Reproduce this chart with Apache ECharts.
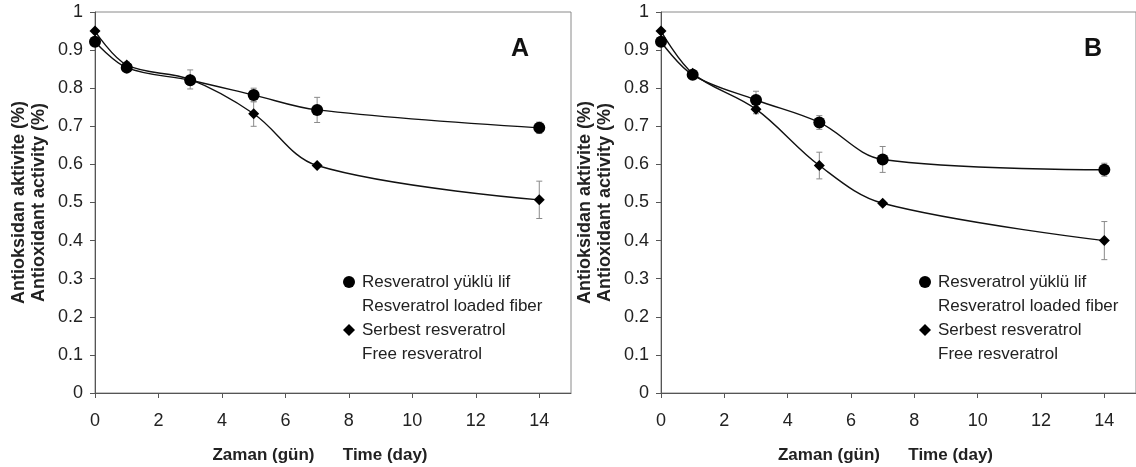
<!DOCTYPE html>
<html lang="tr">
<head>
<meta charset="utf-8" />
<title>Antioksidan aktivite</title>
<style>
  html, body { margin: 0; padding: 0; background: #fff; }
  #chart { width: 1136px; height: 467px; }
</style>
</head>
<body>
<div id="chart"></div>
<script src="https://cdn.jsdelivr.net/npm/echarts@6/dist/echarts.min.js"></script>
<script>
// zaman (gün)
const days = [0, 1, 3, 5, 7, 14];
const xTicks = [0, 2, 4, 6, 8, 10, 12, 14];

const nameFiber = 'Resveratrol yüklü lif';
const nameFree = 'Serbest resveratrol';
const nameEn = {
  'Resveratrol yüklü lif': 'Resveratrol loaded fiber',
  'Serbest resveratrol': 'Free resveratrol'
};

// panel A
const fiberA = [0.922, 0.854, 0.821, 0.782, 0.743, 0.696];
const fiberAErr = [0.005, 0.008, 0.012, 0.018, 0.033, 0.015];
const freeA = [0.950, 0.861, 0.823, 0.733, 0.597, 0.507];
const freeAErr = [0.004, 0.008, 0.025, 0.033, 0.005, 0.049];

// panel B
const fiberB = [0.922, 0.835, 0.769, 0.710, 0.613, 0.586];
const fiberBErr = [0.006, 0.008, 0.023, 0.018, 0.034, 0.017];
const freeB = [0.950, 0.839, 0.745, 0.597, 0.498, 0.400];
const freeBErr = [0.004, 0.006, 0.012, 0.035, 0.005, 0.050];

const chart = echarts.init(document.getElementById('chart'));
const font = '"Liberation Sans", Arial, sans-serif';

function points(vals) {
  return days.map(function (d, i) { return [d, vals[i]]; });
}
function errData(vals, errs) {
  return days.map(function (d, i) { return [d, vals[i] - errs[i], vals[i] + errs[i]]; });
}
// hata çubukları
function renderErr(params, api) {
  const x = api.value(0);
  const top = api.coord([x, api.value(2)]);
  const bot = api.coord([x, api.value(1)]);
  const w = 3;
  const st = { stroke: '#8a8a8a', lineWidth: 1 };
  return {
    type: 'group',
    children: [
      { type: 'line', shape: { x1: top[0], y1: top[1], x2: bot[0], y2: bot[1] }, style: st },
      { type: 'line', shape: { x1: top[0] - w, y1: top[1], x2: top[0] + w, y2: top[1] }, style: st },
      { type: 'line', shape: { x1: bot[0] - w, y1: bot[1], x2: bot[0] + w, y2: bot[1] }, style: st }
    ]
  };
}

const panels = [
  { grid: { left: 95, right: 565, top: 12, bottom: 74 }, fiber: fiberA, fiberErr: fiberAErr, free: freeA, freeErr: freeAErr,
    label: 'A', labelLeft: 511, legendLeft: 338 },
  { grid: { left: 661, right: 0, top: 12, bottom: 74 }, fiber: fiberB, fiberErr: fiberBErr, free: freeB, freeErr: freeBErr,
    label: 'B', labelLeft: 1084, legendLeft: 914 }
];

const option = {
  backgroundColor: '#fff',
  animation: false,
  textStyle: { fontFamily: font },
  title: [],
  legend: [],
  grid: [],
  xAxis: [],
  yAxis: [],
  series: []
};

panels.forEach(function (p, k) {
  option.grid.push(Object.assign({ show: true, borderColor: '#8a8a8a', borderWidth: 1, outerBoundsMode: 'none' }, p.grid));
  option.title.push({
    text: p.label, left: p.labelLeft, top: 37, padding: 0,
    textStyle: { fontFamily: font, fontSize: 25, fontWeight: 'bold', color: '#111' }
  });
  option.legend.push({
    orient: 'vertical', left: p.legendLeft, top: 241,
    itemWidth: 12, itemHeight: 12, itemGap: -24, selectedMode: false,
    data: [{ name: nameFiber, icon: 'circle' }, { name: nameFree, icon: 'diamond' }],
    formatter: function (n) { return '\n' + n + '\n' + nameEn[n]; },
    textStyle: { fontFamily: font, fontSize: 17, lineHeight: 24, color: '#222', padding: [0, 0, 0, 2] }
  });
  option.xAxis.push({
    type: 'value', gridIndex: k, min: 0, max: 15,
    name: 'Zaman (gün)      Time (day)', nameLocation: 'middle', nameGap: 54,
    nameTextStyle: { fontFamily: font, fontSize: 17, fontWeight: 'bold', color: '#222', padding: [0, 26, 0, 0] },
    axisLine: { lineStyle: { color: '#555', width: 1 } },
    axisTick: { show: true, length: 5, lineStyle: { color: '#555' }, customValues: xTicks },
    axisLabel: { fontFamily: font, fontSize: 18, color: '#222', margin: 19, customValues: xTicks },
    splitLine: { show: false }
  });
  option.yAxis.push({
    type: 'value', gridIndex: k, min: 0, max: 1, interval: 0.1,
    name: 'Antioksidan aktivite (%)\nAntioxidant activity (%)', nameLocation: 'middle', nameGap: 46,
    nameTextStyle: { fontFamily: font, fontSize: 18, fontWeight: 'bold', color: '#222', lineHeight: 20 },
    axisLine: { show: true, lineStyle: { color: '#555', width: 1 } },
    axisTick: { show: true, length: 5, lineStyle: { color: '#555' } },
    axisLabel: { fontFamily: font, fontSize: 18, color: '#222', margin: 12,
      formatter: function (v) { return String(+v.toFixed(1)); } },
    splitLine: { show: false }
  });
  [[p.fiber, p.fiberErr, nameFiber, 'circle', 12], [p.free, p.freeErr, nameFree, 'diamond', 11]].forEach(function (s) {
    option.series.push({
      type: 'custom', name: s[2] + ' hata', xAxisIndex: k, yAxisIndex: k, z: 1,
      renderItem: renderErr, data: errData(s[0], s[1]), silent: true
    });
    option.series.push({
      type: 'line', name: s[2], xAxisIndex: k, yAxisIndex: k, z: 3,
      data: points(s[0]), smooth: 0.35,
      symbol: s[3], symbolSize: s[4], showAllSymbol: true,
      itemStyle: { color: '#000' },
      lineStyle: { color: '#111', width: 1.4 }
    });
  });
});

chart.setOption(option);
window.onresize = function () { chart.resize(); };
</script>
</body>
</html>
